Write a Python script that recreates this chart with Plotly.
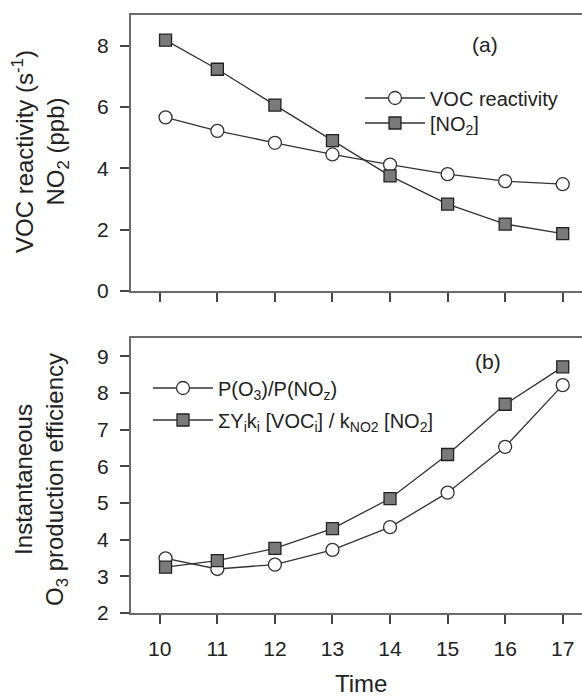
import plotly.graph_objects as go

# Hourly data (local time)
time = [10.1, 11, 12, 13, 14, 15, 16, 17]

# Panel (a)
voc_reactivity = [5.66, 5.22, 4.83, 4.45, 4.12, 3.81, 3.58, 3.48]
no2_ppb = [8.18, 7.23, 6.06, 4.90, 3.75, 2.83, 2.18, 1.87]

# Panel (b)
ope_ratio = [3.49, 3.20, 3.32, 3.72, 4.34, 5.28, 6.53, 8.21]
ope_calc = [3.25, 3.43, 3.76, 4.30, 5.12, 6.32, 7.69, 8.71]

x_ticks = [10, 11, 12, 13, 14, 15, 16, 17]
y_ticks_a = [0, 2, 4, 6, 8]
y_ticks_b = [2, 3, 4, 5, 6, 7, 8, 9]

FONT = "Liberation Sans, Arial, sans-serif"
TXT = "#222222"
LINE = "#333333"
AXIS = "#6b6b6b"

circle = dict(symbol="circle", size=13, color="white", line=dict(color="#333333", width=1.3))
square = dict(symbol="square", size=12, color="#7a7a7a", line=dict(color="#222222", width=1.3))

fig = go.Figure()
fig.add_trace(go.Scatter(x=time, y=voc_reactivity, mode="lines+markers", name="VOC reactivity",
                         line=dict(color=LINE, width=1.3), marker=circle,
                         xaxis="x", yaxis="y", legend="legend"))
fig.add_trace(go.Scatter(x=time, y=no2_ppb, mode="lines+markers", name="[NO<sub>2</sub>]",
                         line=dict(color=LINE, width=1.3), marker=square,
                         xaxis="x", yaxis="y", legend="legend2"))
fig.add_trace(go.Scatter(x=time, y=ope_ratio, mode="lines+markers",
                         name="P(O<sub>3</sub>)/P(NO<sub>z</sub>)",
                         line=dict(color=LINE, width=1.3), marker=circle,
                         xaxis="x2", yaxis="y2", legend="legend3"))
fig.add_trace(go.Scatter(x=time, y=ope_calc, mode="lines+markers",
                         name="ΣY<sub>i</sub>k<sub>i</sub> [VOC<sub>i</sub>] / k<sub>NO2</sub> [NO<sub>2</sub>]",
                         line=dict(color=LINE, width=1.3), marker=square,
                         xaxis="x2", yaxis="y2", legend="legend4"))

axis_common = dict(showline=True, linecolor=AXIS, linewidth=2, ticks="outside", ticklen=9,
                   tickwidth=1.5, tickcolor="#444444", showgrid=False, zeroline=False,
                   ticklabelstandoff=7,
                   tickfont=dict(family=FONT, size=21, color=TXT))


def legend_box(x, y):
    return dict(x=x, y=y, xanchor="left", yanchor="middle", bgcolor="rgba(0,0,0,0)",
                itemwidth=60, font=dict(family=FONT, size=20, color=TXT))


fig.update_layout(
    width=582, height=696,
    margin=dict(l=131, r=0, t=15, b=83),
    paper_bgcolor="white", plot_bgcolor="white",
    font=dict(family=FONT, color=TXT),
    showlegend=True,
    xaxis=dict(axis_common, range=[9.5, 17.335], tickvals=x_ticks, showticklabels=False,
               mirror=True, anchor="y", domain=[0, 1]),
    yaxis=dict(axis_common, range=[0, 9], tickvals=y_ticks_a, domain=[0.5387, 1.0], anchor="x"),
    xaxis2=dict(axis_common, range=[9.5, 17.335], tickvals=x_ticks, mirror=True,
                anchor="y2", domain=[0, 1]),
    yaxis2=dict(axis_common, range=[2, 9.5], tickvals=y_ticks_b, domain=[0, 0.4601], anchor="x2"),
    legend=legend_box((360 - 131) / 451, (613 - 98) / 598),
    legend2=legend_box((360 - 131) / 451, (613 - 123) / 598),
    legend3=legend_box((148 - 131) / 451, (613 - 388) / 598),
    legend4=legend_box((148 - 131) / 451, (613 - 420) / 598),
    annotations=[
        dict(text="(a)", x=(485 - 131) / 451, y=(613 - 45) / 598, xref="paper", yref="paper",
             showarrow=False, xanchor="center", yanchor="middle",
             font=dict(family=FONT, size=21, color=TXT)),
        dict(text="(b)", x=(488 - 131) / 451, y=(613 - 362) / 598, xref="paper", yref="paper",
             showarrow=False, xanchor="center", yanchor="middle",
             font=dict(family=FONT, size=21, color=TXT)),
        dict(text="VOC reactivity (s<sup>-1</sup>)<br>NO<sub>2</sub> (ppb)", textangle=-90,
             x=(41 - 131) / 451, y=(613 - 152) / 598, xref="paper", yref="paper",
             showarrow=False, xanchor="center", yanchor="middle",
             font=dict(family=FONT, size=24, color=TXT)),
        dict(text="Instantaneous<br>O<sub>3</sub> production efficiency", textangle=-90,
             x=(41 - 131) / 451, y=(613 - 480) / 598, xref="paper", yref="paper",
             showarrow=False, xanchor="center", yanchor="middle",
             font=dict(family=FONT, size=24, color=TXT)),
        dict(text="Time", x=(361 - 131) / 451, y=(613 - 683) / 598, xref="paper", yref="paper",
             showarrow=False, xanchor="center", yanchor="middle",
             font=dict(family=FONT, size=24, color=TXT)),
    ],
)

fig.write_html("out.html")
